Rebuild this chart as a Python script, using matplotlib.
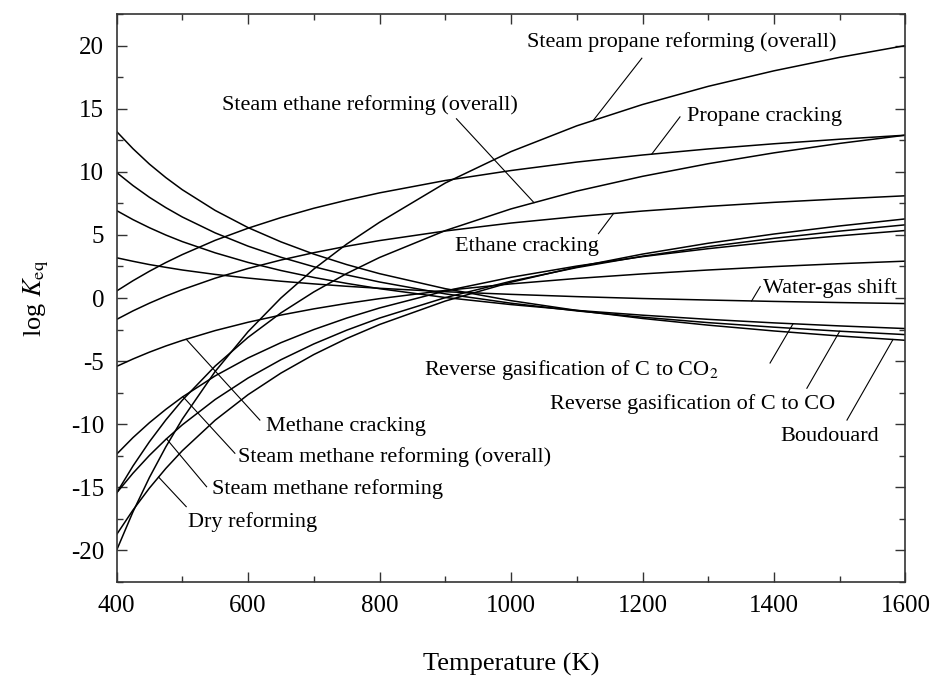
import numpy as np
import matplotlib.pyplot as plt
from matplotlib.ticker import MultipleLocator

plt.rcParams['font.family'] = ['Liberation Serif', 'DejaVu Serif']
plt.rcParams['mathtext.fontset'] = 'stix'
plt.rcParams['axes.unicode_minus'] = False

# temperature grid (K) and log Keq
T = [400, 425, 450, 475, 500, 550, 600, 650, 700, 750, 800,
     900, 1000, 1100, 1200, 1300, 1400, 1500, 1600]

steam_propane = [-20.0, -16.94, -14.22, -11.79, -9.6, -5.82, -2.67, 0.0, 2.29, 4.27, 6.0,
                 9.11, 11.6, 13.64, 15.33, 16.77, 18.0, 19.07, 20.0]
steam_ethane = [-15.45, -13.31, -11.39, -9.66, -8.10, -5.39, -3.12, -1.18, 0.48, 1.94, 3.21,
                5.34, 7.06, 8.47, 9.64, 10.64, 11.50, 12.25, 12.9]
propane_cracking = [0.55, 1.37, 2.12, 2.81, 3.44, 4.57, 5.53, 6.37, 7.11, 7.75, 8.33,
                    9.31, 10.10, 10.77, 11.33, 11.81, 12.22, 12.58, 12.9]
ethane_cracking = [-1.70, -1.02, -0.41, 0.15, 0.66, 1.57, 2.34, 3.01, 3.59, 4.10, 4.55,
                   5.31, 5.94, 6.45, 6.89, 7.26, 7.58, 7.85, 8.1]
methane_cracking = [-5.42, -4.83, -4.29, -3.80, -3.36, -2.58, -1.92, -1.35, -0.86, -0.43, -0.05,
                    0.60, 1.12, 1.55, 1.91, 2.22, 2.49, 2.72, 2.92]
smr_overall = [-12.38, -11.06, -9.88, -8.82, -7.85, -6.17, -4.75, -3.54, -2.50, -1.59, -0.79,
               0.56, 1.64, 2.53, 3.28, 3.91, 4.46, 4.93, 5.35]
smr = [-15.45, -13.88, -12.47, -11.20, -10.05, -8.04, -6.34, -4.89, -3.64, -2.55, -1.59,
       0.03, 1.33, 2.41, 3.31, 4.07, 4.73, 5.30, 5.80]
dry_reforming = [-18.75, -16.80, -15.06, -13.50, -12.10, -9.68, -7.66, -5.95, -4.48, -3.21, -2.10,
                 -0.24, 1.25, 2.46, 3.48, 4.34, 5.07, 5.71, 6.27]
water_gas_shift = [3.19, 2.91, 2.65, 2.43, 2.22, 1.87, 1.58, 1.33, 1.12, 0.93, 0.77,
                   0.50, 0.29, 0.11, -0.04, -0.16, -0.27, -0.36, -0.44]
rev_gasif_co2 = [6.93, 6.21, 5.57, 4.99, 4.47, 3.58, 2.82, 2.18, 1.63, 1.16, 0.74,
                 0.04, -0.52, -0.98, -1.36, -1.69, -1.97, -2.21, -2.42]
rev_gasif_co = [9.95, 8.91, 7.98, 7.16, 6.42, 5.16, 4.11, 3.23, 2.48, 1.83, 1.27,
                0.33, -0.41, -1.02, -1.52, -1.95, -2.31, -2.63, -2.9]
boudouard = [13.2, 11.83, 10.61, 9.54, 8.58, 6.94, 5.58, 4.45, 3.48, 2.65, 1.93,
             0.74, -0.21, -0.98, -1.62, -2.15, -2.61, -3.01, -3.35]

# label text, text anchor (T, y), leader start (T, y), curve, T where leader meets curve
labels = [
    ("Steam propane reforming (overall)", (1024, 20.3), (1199, 19.0), steam_propane, 1125),
    ("Steam ethane reforming (overall)", (560, 15.3), (917, 14.2), steam_ethane, 1035),
    ("Propane cracking", (1268, 14.35), (1257, 14.35), propane_cracking, 1214),
    ("Ethane cracking", (915, 4.1), (1133, 5.1), ethane_cracking, 1156),
    ("Water-gas shift", (1383, 0.8), (1379, 0.9), water_gas_shift, 1366),
    ("Reverse gasification of C to CO$_2$", (868, -5.7), (1394, -5.15), rev_gasif_co2, 1429),
    ("Reverse gasification of C to CO", (1059, -8.4), (1450, -7.15), rev_gasif_co, 1500),
    ("Boudouard", (1409, -11.0), (1511, -9.67), boudouard, 1581),
    ("Methane cracking", (627, -10.15), (618, -9.67), methane_cracking, 506),
    ("Steam methane reforming (overall)", (585, -12.6), (580, -12.3), smr_overall, 501),
    ("Steam methane reforming", (545, -15.15), (537, -14.95), smr, 476),
    ("Dry reforming", (508, -17.75), (506, -16.53), dry_reforming, 464),
]

curves = [steam_propane, steam_ethane, propane_cracking, ethane_cracking, methane_cracking,
          smr_overall, smr, dry_reforming, water_gas_shift, rev_gasif_co2, rev_gasif_co, boudouard]

fig = plt.figure(figsize=(9.36, 6.77), dpi=100)
ax = fig.add_axes([0.1245, 0.1403, 0.8429, 0.839])

for c in curves:
    ax.plot(T, c, color='black', lw=1.1)

for text, pos, start, c, t_hit in labels:
    ax.text(pos[0], pos[1], text, fontsize=16, ha='left', va='center')
    ax.plot([start[0], t_hit], [start[1], np.interp(t_hit, T, c)], color='black', lw=0.8)

ax.set_xlim(400, 1600)
ax.set_ylim(-22.5, 22.5)
ax.xaxis.set_major_locator(MultipleLocator(200))
ax.xaxis.set_minor_locator(MultipleLocator(100))
ax.yaxis.set_major_locator(MultipleLocator(5))
ax.yaxis.set_minor_locator(MultipleLocator(2.5))
ax.tick_params(which='both', direction='in', top=True, right=True, labelsize=18,
               width=1.0, color='#333333')
ax.tick_params(which='major', length=7, pad=9)
ax.tick_params(which='minor', length=4)
for sp in ax.spines.values():
    sp.set_linewidth(1.2)
    sp.set_color('#333333')

ax.set_xlabel('Temperature (K)', fontsize=19, labelpad=26)
ax.set_ylabel(r'log $K_{\mathrm{eq}}$', fontsize=19, labelpad=14)

plt.savefig('out.png', dpi=100)
